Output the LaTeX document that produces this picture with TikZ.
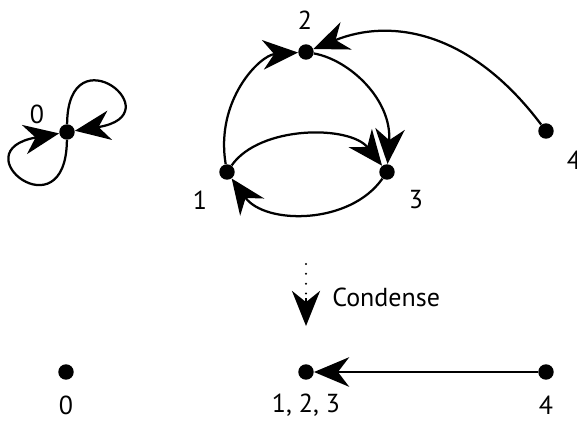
\documentclass[tikz,border=0pt]{standalone}
\usepackage{fontspec}
\setmainfont{PT Sans}
\usetikzlibrary{arrows.meta}
\begin{document}
\begin{tikzpicture}[x=0.025cm,y=-0.025cm,
  vtx/.style={circle,fill=black,inner sep=0pt,minimum size=11pt},
  lbl/.style={inner sep=0pt,font=\fontsize{18.5}{20}\selectfont},
  edge/.style={line width=1.6pt,-{Stealth[length=25pt,width=21pt,inset=8pt]}},
  dotline/.style={line width=1.6pt,line cap=round,dash pattern=on 0pt off 7pt}
]
\useasboundingbox (0,0) rectangle (577,423);
% top graph
\node[vtx] (n0) at (67,132) {};
\node[vtx] (n1) at (227,172) {};
\node[vtx] (n2) at (306,52) {};
\node[vtx] (n3) at (387,172) {};
\node[vtx] (n4) at (546,131) {};
\node[lbl] (l0) at (37,114) {0};
\node[lbl] (l1) at (200,200) {1};
\node[lbl] (l2) at (305,20) {2};
\node[lbl] (l3) at (416,200) {3};
\node[lbl] (l4) at (574,160) {4};
\draw[edge] (n0) .. controls (68,30) and (175,115) .. (n0);
\draw[edge] (n0) .. controls (66,236) and (-41,151) .. (n0);
\draw[edge] (n1) .. controls (215,100) and (260,55) .. (n2);
\draw[edge] (n2) .. controls (350,60) and (392,100) .. (n3);
\draw[edge] (n1) .. controls (260,125) and (350,125) .. (n3);
\draw[edge] (n3) .. controls (350,225) and (265,225) .. (n1);
\draw[edge] (n4) .. controls (470,30) and (390,18) .. (n2);
% condense arrow
\coordinate (c1) at (306,264);
\coordinate (c2) at (306,298);
\coordinate (c3) at (306,326);
\draw[dotline] (c1) -- (c2);
\draw[line width=1.6pt,-{Stealth[length=25pt,width=20pt,inset=8pt]}] (c2) -- (c3);
\node[lbl,anchor=west] (cl) at (332,297) {Condense};
% bottom graph
\node[vtx] (m0) at (66,372) {};
\node[vtx] (m1) at (306,372) {};
\node[vtx] (m4) at (546,372) {};
\node[lbl] (k0) at (66,405) {0};
\node[lbl] (k1) at (306,405) {1, 2, 3};
\node[lbl] (k4) at (546,405) {4};
\draw[edge] (m4) -- (m1);
\end{tikzpicture}
\end{document}
